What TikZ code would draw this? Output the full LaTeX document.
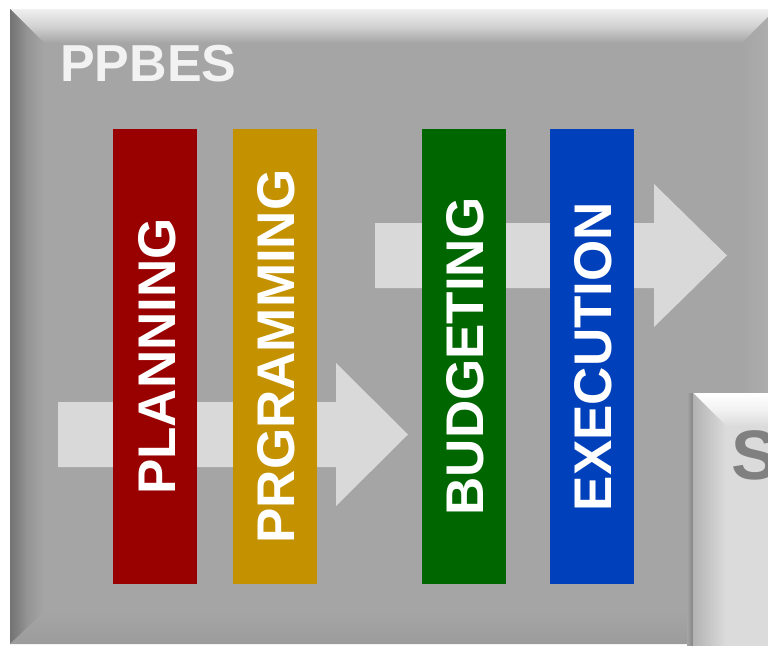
\documentclass[tikz,border=0pt]{standalone}
\usepackage{fontspec}
\setmainfont{Liberation Sans}
\begin{document}
\definecolor{panelgray}{HTML}{A5A5A5}
\definecolor{arrowgray}{HTML}{D9D9D9}
\definecolor{plancol}{HTML}{990000}
\definecolor{progcol}{HTML}{C49100}
\definecolor{budgcol}{HTML}{006600}
\definecolor{execcol}{HTML}{0040BB}
\begin{tikzpicture}[x=1pt,y=-1pt,
  barbox/.style={draw=none, minimum width=84pt, minimum height=455pt, inner sep=0pt},
  bartext/.style={rotate=90, text=white, inner sep=0pt,
    font=\fontsize{53}{53}\selectfont\bfseries},
  flowarrow/.style={fill=arrowgray, draw=none}]
\useasboundingbox (0,0) rectangle (768,645);
\fill[white] (0,0) rectangle (768,645);
\clip (0,0) rectangle (768,645);

% outer bevelled panel
\fill[panelgray] (10,9) rectangle (776,644);
\shade[top color=white!88!gray, bottom color=panelgray, middle color=white!65!gray]
  (10,9) -- (776,9) -- (742,43) -- (44,43) -- cycle;
\shade[left color=black!55, right color=panelgray, middle color=black!42]
  (10,9) -- (44,43) -- (44,612) -- (10,644) -- cycle;
\shade[top color=panelgray, bottom color=black!39]
  (10,644) -- (44,612) -- (742,612) -- (776,644) -- cycle;
\shade[left color=panelgray, right color=black!31]
  (776,9) -- (742,43) -- (742,612) -- (776,644) -- cycle;

% panel title
\node[anchor=west, inner sep=0pt, text=white!95!black,
  font=\fontsize{52}{52}\selectfont\bfseries] (title) at (60,64) {PPBES};

% flow arrows behind the phases
\fill[flowarrow] (58,402) -- (336,402) -- (336,363) -- (408,434.5)
  -- (336,506) -- (336,467) -- (58,467) -- cycle;
\fill[flowarrow] (375,223) -- (654,223) -- (654,184) -- (727,255.5)
  -- (654,327) -- (654,288) -- (375,288) -- cycle;

% phase bars
\node[barbox, fill=plancol] (plan) at (155,356.5) {};
\node[barbox, fill=progcol] (prog) at (274.5,356.5) {};
\node[barbox, fill=budgcol] (budg) at (463.5,356.5) {};
\node[barbox, fill=execcol] (exec) at (591.5,356.5) {};

\node[bartext] (plantext) at ([xshift=2pt]plan.center) {PLANNING};
\node[bartext] (progtext) at ([xshift=2pt]prog.center) {PRGRAMMING};
\node[bartext] (budgtext) at ([xshift=2pt]budg.center) {BUDGETING};
\node[bartext] (exectext) at ([xshift=2pt]exec.center) {EXECUTION};

% neighbouring panel, lower right
\shade[left color=panelgray, right color=black!48] (687,393) rectangle (693,650);
\fill[black!14] (693,393) rectangle (800,700);
\shade[top color=white, bottom color=black!14, middle color=black!5]
  (693,393) -- (800,393) -- (800,426) -- (726,426) -- cycle;
\shade[left color=black!30, right color=black!14]
  (693,393) -- (726,426) -- (726,700) -- (693,700) -- cycle;
\node[anchor=west, inner sep=0pt, text=black!50,
  font=\fontsize{70}{70}\selectfont\bfseries] (nexttitle) at (731,455) {S};
\end{tikzpicture}
\end{document}
